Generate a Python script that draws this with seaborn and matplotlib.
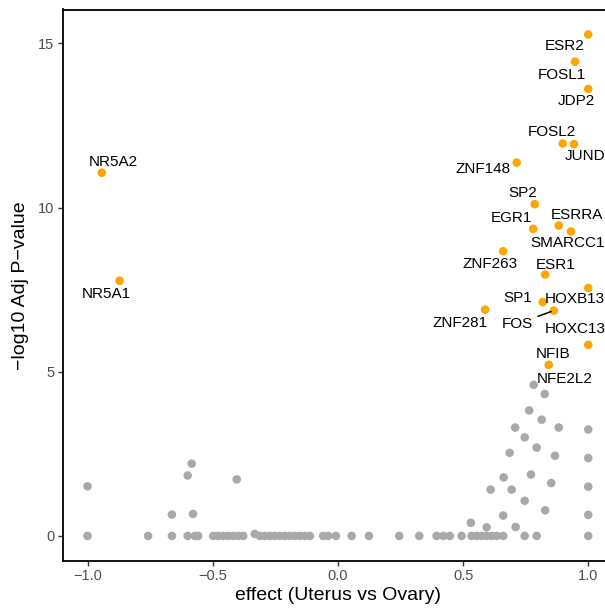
import matplotlib
matplotlib.use("Agg")
import matplotlib.pyplot as plt
import seaborn as sns
import pandas as pd
import numpy as np

# ---- data: labelled (significant) factors ----
sig_genes = ["ESR2", "FOSL1", "JDP2", "FOSL2", "JUND", "ZNF148", "NR5A2", "SP2",
             "EGR1", "ESRRA", "SMARCC1", "ZNF263", "ESR1", "NR5A1", "HOXB13",
             "SP1", "FOS", "ZNF281", "HOXC13", "NFIB"]
sig_effect = [1.0, 0.947, 1.0, 0.898, 0.943, 0.714, -0.943, 0.786,
              0.780, 0.882, 0.931, 0.660, 0.828, -0.872, 1.0,
              0.818, 0.862, 0.588, 1.0, 0.842]
sig_logp = [15.27, 14.44, 13.61, 11.95, 11.93, 11.37, 11.06, 10.10,
            9.35, 9.45, 9.27, 8.67, 7.96, 7.77, 7.55,
            7.12, 6.86, 6.89, 5.82, 5.21]

# ---- data: non-significant factors ----
ns_effect = [-1.0, -1.0, -0.758, -0.663, -0.663, -0.600, -0.584, -0.600, -0.579,
             -0.571, -0.404, -0.558, -0.498, -0.478, -0.458, -0.438, -0.418,
             -0.398, -0.378, -0.332, -0.312, -0.292, -0.272, -0.252, -0.232,
             -0.212, -0.192, -0.172, -0.152, -0.132, -0.112, -0.059, -0.039,
             -0.008, 0.055, 0.124, 0.245, 0.325, 0.394, 0.421, 0.447,
             0.494, 0.534, 0.554, 0.574, 0.594, 0.614, 0.634, 0.660, 0.746,
             0.794, 1.0,
             0.782, 0.826, 0.764, 0.814, 0.708, 0.882, 1.0, 0.746, 0.794,
             0.686, 0.867, 1.0, 0.662, 0.771, 0.852, 1.0, 0.610, 0.694,
             0.746, 0.828, 0.660, 1.0, 0.531, 0.594, 0.710]
ns_logp = [0.0, 1.51, 0.0, 0.0, 0.65, 1.84, 2.20, 0.0, 0.67,
           0.0, 1.72, 0.0, 0.0, 0.0, 0.0, 0.0, 0.0,
           0.0, 0.0, 0.06, 0.0, 0.0, 0.0, 0.0, 0.0,
           0.0, 0.0, 0.0, 0.0, 0.0, 0.0, 0.0, 0.0,
           0.0, 0.0, 0.0, 0.0, 0.0, 0.0, 0.0, 0.0,
           0.0, 0.0, 0.0, 0.0, 0.0, 0.0, 0.0, 0.0, 0.0,
           0.0, 0.0,
           4.60, 4.32, 3.82, 3.54, 3.30, 3.30, 3.24, 3.00, 2.69,
           2.53, 2.44, 2.37, 1.78, 1.87, 1.61, 1.50, 1.41, 1.41,
           1.07, 0.78, 0.62, 0.64, 0.40, 0.26, 0.27]

extra_label = ("NFE2L2", 0.782, 4.60)   # label attached to a grey point

x_ticks = [-1.0, -0.5, 0.0, 0.5, 1.0]
x_ticklabels = ["\u22121.0", "\u22120.5", "0.0", "0.5", "1.0"]
y_ticks = [0, 5, 10, 15]

df = pd.DataFrame({
    "gene": [""] * len(ns_effect) + sig_genes,
    "effect": ns_effect + sig_effect,
    "logp": ns_logp + sig_logp,
    "grp": ["ns"] * len(ns_effect) + ["sig"] * len(sig_effect),
})

# label offsets in pixels (dx right, dy down) — styling only
offsets = {
    "ESR2": (-24, 12), "FOSL1": (-13, 13), "JDP2": (-12, 12), "FOSL2": (-11, -11),
    "JUND": (11, 12), "ZNF148": (-34, 6), "NR5A2": (12, -11), "SP2": (-12, -11),
    "EGR1": (-22, -11), "ESRRA": (18, -11), "SMARCC1": (-3, 12), "ZNF263": (-13, 13),
    "ESR1": (10, -10), "NR5A1": (-13, 13), "HOXB13": (-13, 11), "SP1": (-25, -4),
    "FOS": (-36, 13), "ZNF281": (-25, 13), "HOXC13": (-13, -16), "NFIB": (4, -11),
    "NFE2L2": (31, -6),
}

sns.set_theme(style="white")
plt.rcParams["font.family"] = ["Liberation Sans", "DejaVu Sans"]

W, H = 605, 609
fig = plt.figure(figsize=(W / 100, H / 100), dpi=100)
left_px, right_px, top_px, bottom_px = 62.5, 613.3, 9.5, 561.0
ax = fig.add_axes([left_px / W, 1 - bottom_px / H,
                   (right_px - left_px) / W, (bottom_px - top_px) / H])

sns.scatterplot(data=df, x="effect", y="logp", hue="grp",
                palette={"ns": "#A9A9A9", "sig": "#FFA500"},
                s=38, linewidth=0, legend=False, ax=ax, zorder=3)

ax.set_xlim(-1.1, 1.1)
ax.set_ylim(-0.764, 16.03)
ax.set_xticks(x_ticks)
ax.set_xticklabels(x_ticklabels)
ax.set_yticks(y_ticks)

for sp in ax.spines.values():
    sp.set_visible(True)
    sp.set_color("black")
    sp.set_linewidth(1.3)

ax.tick_params(axis="both", which="major", direction="out", length=3.5, width=1.0,
               color="#333333", labelcolor="#4D4D4D", labelsize=10.5, pad=2.5,
               bottom=True, left=True)

ax.set_xlabel("effect (Uterus vs Ovary)", fontsize=14, color="black", labelpad=3)
ax.set_ylabel("\u2212log10 Adj P\u2212value", fontsize=14, color="black", labelpad=6)

labels = list(zip(sig_genes, sig_effect, sig_logp)) + [extra_label]
for g, x, y in labels:
    dx, dy = offsets[g]
    arrow = None
    if g == "FOS":
        arrow = dict(arrowstyle="-", color="black", lw=1.1, shrinkA=1, shrinkB=2)
    ax.annotate(g, xy=(x, y), xytext=(dx, -dy), textcoords="offset pixels",
                ha="center", va="center", fontsize=11, color="black",
                arrowprops=arrow, zorder=4)

fig.savefig("out.png", dpi=100)
